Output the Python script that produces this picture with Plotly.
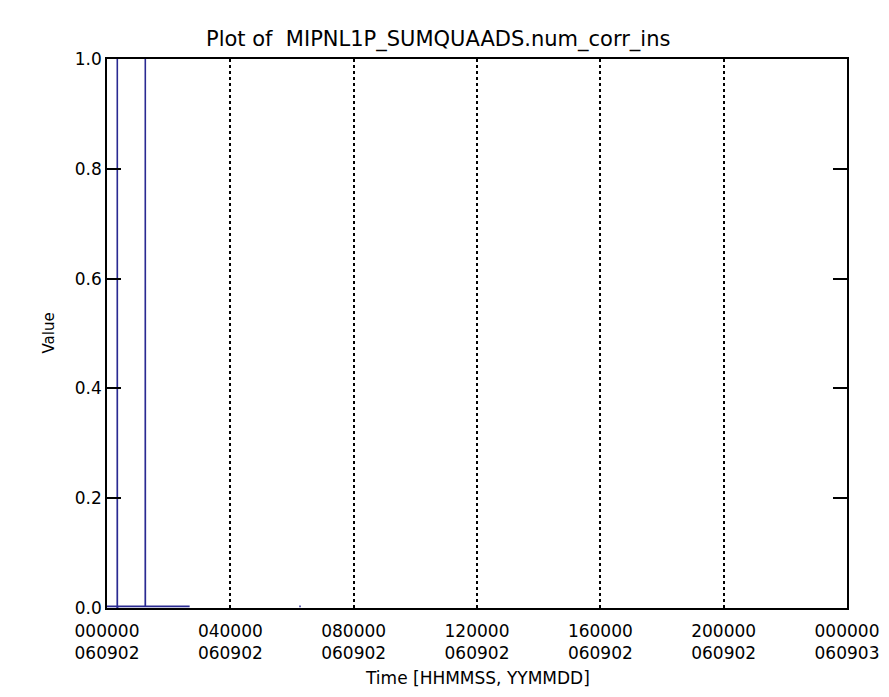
import plotly.graph_objects as go

# ---- data (seconds since 000000 on 060902) ----
times_s = [0, 600, 1150, 1195, 1203, 1210, 1300, 2500, 4400, 4465, 4472, 4480, 5600, 7800, 9650,
           None, 22450, 22620]
values = [0.003, 0.003, 0.003, 0.0, 1.0, 0.0, 0.003, 0.003, 0.003, 0.003, 1.0, 0.003, 0.003, 0.003, 0.003,
          None, 0.003, 0.003]

tick_vals = [0, 14400, 28800, 43200, 57600, 72000, 86400]
tick_text = ["000000<br>060902", "040000<br>060902", "080000<br>060902", "120000<br>060902",
             "160000<br>060902", "200000<br>060902", "000000<br>060903"]
y_ticks = [0.0, 0.2, 0.4, 0.6, 0.8, 1.0]
y_text = ["0.0", "0.2", "0.4", "0.6", "0.8", "1.0"]

title_text = "Plot of  MIPNL1P_SUMQUAADS.num_corr_ins"
x_title = "Time [HHMMSS, YYMMDD]"
y_title = "Value"

FONT = "DejaVu Sans"

fig = go.Figure()
fig.add_trace(go.Scatter(x=times_s, y=values, mode="lines",
                         line=dict(color="#2a2a92", width=1.6),
                         connectgaps=False, showlegend=False, hoverinfo="skip"))

W, H = 889, 697
L, R, T, B = 99, 50, 51, 97
pw = W - L - R
ph = H - T - B

fig.update_layout(
    width=W, height=H,
    margin=dict(l=L, r=R, t=T, b=B, pad=0),
    paper_bgcolor="white", plot_bgcolor="white",
    font=dict(family=FONT, size=17, color="black"),
    showlegend=False,
)
fig.update_xaxes(
    range=[0, 86400], tickmode="array", tickvals=tick_vals, ticktext=tick_text,
    showline=True, linecolor="black", linewidth=1.6, mirror=True,
    showgrid=True, gridcolor="black", gridwidth=1.5, griddash="dot",
    ticks="", zeroline=False, ticklabelstandoff=7,
    tickfont=dict(family=FONT, size=17, color="black"),
)
fig.update_yaxes(
    range=[0, 1], tickmode="array", tickvals=y_ticks, ticktext=y_text,
    showline=True, linecolor="black", linewidth=1.6, mirror="ticks",
    ticks="inside", ticklen=14, tickwidth=1.5, tickcolor="black",
    showgrid=False, zeroline=False,
    tickfont=dict(family=FONT, size=17, color="black"),
)

fig.add_annotation(text=title_text, xref="paper", yref="paper",
                   x=(430 - L) / pw, y=1 + (T - 31) / ph, xanchor="center", yanchor="middle",
                   showarrow=False, font=dict(family=FONT, size=21, color="black"))
fig.add_annotation(text=x_title, xref="paper", yref="paper",
                   x=(469 - L) / pw, y=-(670 - (T + ph)) / ph, xanchor="center", yanchor="middle",
                   showarrow=False, font=dict(family=FONT, size=17, color="black"))
fig.add_annotation(text=y_title, xref="paper", yref="paper",
                   x=(40 - L) / pw, y=0.5, xanchor="center", yanchor="middle", textangle=-90,
                   showarrow=False, font=dict(family=FONT, size=15, color="black"))

fig.write_html("out.html")
